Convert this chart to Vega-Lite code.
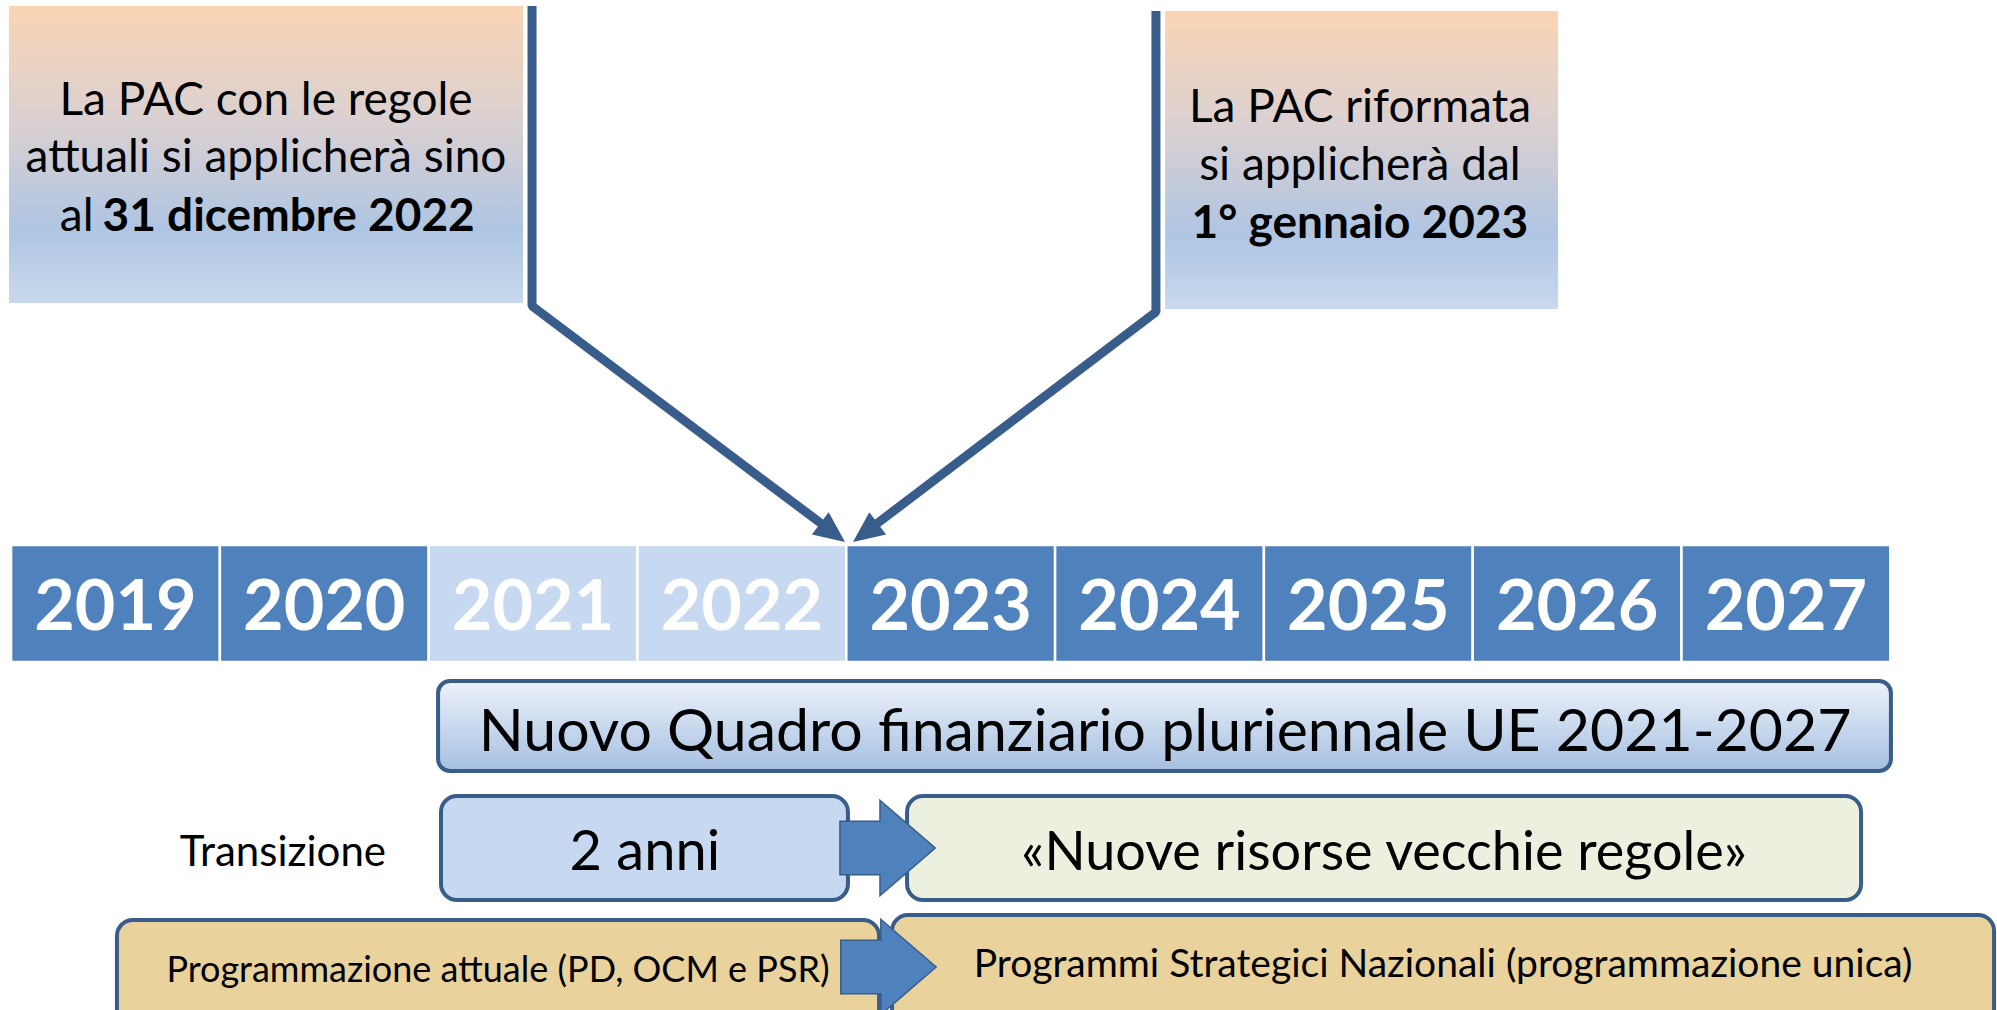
{
  "$schema": "https://vega.github.io/schema/vega-lite/v6.json",
  "width": 1997,
  "height": 1010,
  "padding": 0,
  "autosize": {"type": "none"},
  "background": "white",
  "config": {"view": {"stroke": null}},
  "encoding": {
    "x": {"field": "x", "type": "quantitative", "scale": {"domain": [2018.947, 2028.511], "nice": false, "zero": false}, "axis": null},
    "y": {"field": "y", "type": "quantitative", "scale": {"domain": [0, 101], "reverse": true, "nice": false, "zero": false}, "axis": null}
  },
  "layer": [
    {
      "data": {"values": [
        {"box": "attuale", "x": 2018.990, "x2": 2021.452, "y": 0.6, "y2": 30.3},
        {"box": "riformata", "x": 2024.527, "x2": 2026.409, "y": 1.1, "y2": 30.9}
      ]},
      "mark": {"type": "rect", "fill": {"gradient": "linear", "x1": 0, "y1": 0, "x2": 0, "y2": 1, "stops": [
        {"offset": 0, "color": "#fad5b4"},
        {"offset": 0.4, "color": "#d9d0d2"},
        {"offset": 0.75, "color": "#afc5e2"},
        {"offset": 1, "color": "#c8d9ed"}
      ]}},
      "encoding": {"x2": {"field": "x2"}, "y2": {"field": "y2"}}
    },
    {
      "data": {"values": [
        {"arrow": "left", "i": 0, "x": 2021.495, "y": 0.6},
        {"arrow": "left", "i": 1, "x": 2021.495, "y": 30.6},
        {"arrow": "left", "i": 2, "x": 2022.889, "y": 52.5},
        {"arrow": "right", "i": 0, "x": 2024.483, "y": 1.1},
        {"arrow": "right", "i": 1, "x": 2024.483, "y": 31.2},
        {"arrow": "right", "i": 2, "x": 2023.138, "y": 52.5}
      ]},
      "mark": {"type": "line", "color": "#385d8a", "strokeWidth": 9, "strokeJoin": "bevel", "strokeCap": "butt"},
      "encoding": {"detail": {"field": "arrow"}, "order": {"field": "i", "type": "quantitative"}}
    },
    {
      "data": {"values": [{"arrow": "left", "x": 2022.994, "y": 54.2}]},
      "mark": {"type": "point", "shape": "M0,0 L-2,-0.9 L-2,0.9 Z", "size": 961, "angle": 37, "filled": true, "fill": "#385d8a", "strokeWidth": 0, "opacity": 1}
    },
    {
      "data": {"values": [{"arrow": "right", "x": 2023.032, "y": 54.2}]},
      "mark": {"type": "point", "shape": "M0,0 L-2,-0.9 L-2,0.9 Z", "size": 961, "angle": 143, "filled": true, "fill": "#385d8a", "strokeWidth": 0, "opacity": 1}
    },
    {
      "data": {"name": "years"},
      "mark": {"type": "rect", "stroke": "white", "strokeWidth": 2.5},
      "encoding": {
        "x": {"field": "start", "type": "quantitative", "axis": null},
        "x2": {"field": "end"},
        "y": {"field": "top", "type": "quantitative", "axis": null},
        "y2": {"field": "bottom"},
        "color": {"field": "phase", "type": "nominal", "scale": {"domain": ["attuale", "transizione", "riforma"], "range": ["#4f81bd", "#c6d9f1", "#4f81bd"]}, "legend": null}
      }
    },
    {
      "data": {"name": "years"},
      "mark": {"type": "text", "font": "Lato", "fontWeight": "bold", "fontSize": 70, "color": "white", "align": "center", "baseline": "alphabetic"},
      "encoding": {
        "x": {"field": "mid", "type": "quantitative", "axis": null},
        "y": {"field": "base", "type": "quantitative", "axis": null},
        "text": {"field": "label", "type": "nominal"}
      }
    },
    {
      "data": {"values": [{"x": 2021.045, "x2": 2028.003, "y": 68.1, "y2": 77.1}]},
      "mark": {"type": "rect", "cornerRadius": 12, "stroke": "#385d8a", "strokeWidth": 4, "fill": {"gradient": "linear", "x1": 0, "y1": 0, "x2": 0, "y2": 1, "stops": [
        {"offset": 0, "color": "#eef2f9"},
        {"offset": 0.5, "color": "#c9d9ee"},
        {"offset": 1, "color": "#a5bfe1"}
      ]}},
      "encoding": {"x2": {"field": "x2"}, "y2": {"field": "y2"}}
    },
    {
      "data": {"values": [
        {"kind": "due", "x": 2021.059, "x2": 2023.008, "y": 79.6, "y2": 90.0},
        {"kind": "nuove", "x": 2023.291, "x2": 2027.860, "y": 79.6, "y2": 90.0},
        {"kind": "attuale", "x": 2019.507, "x2": 2023.157, "y": 92.0, "y2": 103.5},
        {"kind": "psn", "x": 2023.219, "x2": 2028.497, "y": 91.5, "y2": 103.5}
      ]},
      "mark": {"type": "rect", "cornerRadius": 16, "stroke": "#385d8a", "strokeWidth": 4},
      "encoding": {
        "x2": {"field": "x2"},
        "y2": {"field": "y2"},
        "fill": {"field": "kind", "type": "nominal", "scale": {"domain": ["due", "nuove", "attuale", "psn"], "range": ["#c6d9f1", "#ebf1de", "#e9d29c", "#e9d29c"]}, "legend": null}
      }
    },
    {
      "data": {"values": [
        {"link": "transizione", "x": 2023.198, "y": 84.8},
        {"link": "programmazione", "x": 2023.202, "y": 96.7}
      ]},
      "mark": {"type": "point", "shape": "M-1,-0.56 L-0.16,-0.56 L-0.16,-1 L1,0 L-0.16,1 L-0.16,0.56 L-1,0.56 Z", "size": 9100, "filled": true, "fill": "#4f81bd", "stroke": "#385d8a", "strokeWidth": 1.5, "opacity": 1}
    },
    {
      "data": {"values": [
        {"x": 2020.221, "y": 11.5, "text": "La PAC con le regole"},
        {"x": 2020.221, "y": 17.2, "text": "attuali si applicherà sino"},
        {"x": 2025.460, "y": 12.2, "text": "La PAC riformata"},
        {"x": 2025.460, "y": 18.0, "text": "si applicherà dal"}
      ]},
      "mark": {"type": "text", "font": "Lato", "fontSize": 46, "color": "black", "align": "center", "baseline": "alphabetic"},
      "encoding": {"text": {"field": "text", "type": "nominal"}}
    },
    {
      "data": {"values": [{"x": 2019.395, "y": 23.1, "text": "al"}]},
      "mark": {"type": "text", "font": "Lato", "fontSize": 46, "color": "black", "align": "right", "baseline": "alphabetic"},
      "encoding": {"text": {"field": "text", "type": "nominal"}}
    },
    {
      "data": {"values": [{"x": 2019.438, "y": 23.1, "text": "31 dicembre 2022"}]},
      "mark": {"type": "text", "font": "Lato", "fontWeight": "bold", "fontSize": 46, "color": "black", "align": "left", "baseline": "alphabetic"},
      "encoding": {"text": {"field": "text", "type": "nominal"}}
    },
    {
      "data": {"values": [{"x": 2025.460, "y": 23.8, "text": "1° gennaio 2023"}]},
      "mark": {"type": "text", "font": "Lato", "fontWeight": "bold", "fontSize": 46, "color": "black", "align": "center", "baseline": "alphabetic"},
      "encoding": {"text": {"field": "text", "type": "nominal"}}
    },
    {
      "data": {"values": [{"x": 2024.527, "y": 75.1, "text": "Nuovo Quadro finanziario pluriennale UE 2021-2027"}]},
      "mark": {"type": "text", "font": "Lato", "fontSize": 59, "color": "black", "align": "center", "baseline": "alphabetic"},
      "encoding": {"text": {"field": "text", "type": "nominal"}}
    },
    {
      "data": {"values": [{"x": 2022.035, "y": 87.0, "text": "2 anni"}]},
      "mark": {"type": "text", "font": "Lato", "fontSize": 56, "color": "black", "align": "center", "baseline": "alphabetic"},
      "encoding": {"text": {"field": "text", "type": "nominal"}}
    },
    {
      "data": {"values": [{"x": 2025.576, "y": 87.0, "text": "«Nuove risorse vecchie regole»"}]},
      "mark": {"type": "text", "font": "Lato", "fontSize": 54, "color": "black", "align": "center", "baseline": "alphabetic"},
      "encoding": {"text": {"field": "text", "type": "nominal"}}
    },
    {
      "data": {"values": [{"x": 2020.302, "y": 86.6, "text": "Transizione"}]},
      "mark": {"type": "text", "font": "Lato", "fontSize": 42, "color": "black", "align": "center", "baseline": "alphabetic"},
      "encoding": {"text": {"field": "text", "type": "nominal"}}
    },
    {
      "data": {"values": [{"x": 2021.332, "y": 98.2, "text": "Programmazione attuale (PD, OCM e PSR)"}]},
      "mark": {"type": "text", "font": "Lato", "fontSize": 36, "color": "black", "align": "center", "baseline": "alphabetic"},
      "encoding": {"text": {"field": "text", "type": "nominal"}}
    },
    {
      "data": {"values": [{"x": 2025.858, "y": 97.7, "text": "Programmi Strategici Nazionali (programmazione unica)"}]},
      "mark": {"type": "text", "font": "Lato", "fontSize": 39, "color": "black", "align": "center", "baseline": "alphabetic"},
      "encoding": {"text": {"field": "text", "type": "nominal"}}
    }
  ],
  "datasets": {
    "years": [
      {"label": "2019", "start": 2019, "end": 2020, "mid": 2019.5, "top": 54.5, "bottom": 66.2, "base": 63.0, "phase": "attuale"},
      {"label": "2020", "start": 2020, "end": 2021, "mid": 2020.5, "top": 54.5, "bottom": 66.2, "base": 63.0, "phase": "attuale"},
      {"label": "2021", "start": 2021, "end": 2022, "mid": 2021.5, "top": 54.5, "bottom": 66.2, "base": 63.0, "phase": "transizione"},
      {"label": "2022", "start": 2022, "end": 2023, "mid": 2022.5, "top": 54.5, "bottom": 66.2, "base": 63.0, "phase": "transizione"},
      {"label": "2023", "start": 2023, "end": 2024, "mid": 2023.5, "top": 54.5, "bottom": 66.2, "base": 63.0, "phase": "riforma"},
      {"label": "2024", "start": 2024, "end": 2025, "mid": 2024.5, "top": 54.5, "bottom": 66.2, "base": 63.0, "phase": "riforma"},
      {"label": "2025", "start": 2025, "end": 2026, "mid": 2025.5, "top": 54.5, "bottom": 66.2, "base": 63.0, "phase": "riforma"},
      {"label": "2026", "start": 2026, "end": 2027, "mid": 2026.5, "top": 54.5, "bottom": 66.2, "base": 63.0, "phase": "riforma"},
      {"label": "2027", "start": 2027, "end": 2028, "mid": 2027.5, "top": 54.5, "bottom": 66.2, "base": 63.0, "phase": "riforma"}
    ]
  }
}
